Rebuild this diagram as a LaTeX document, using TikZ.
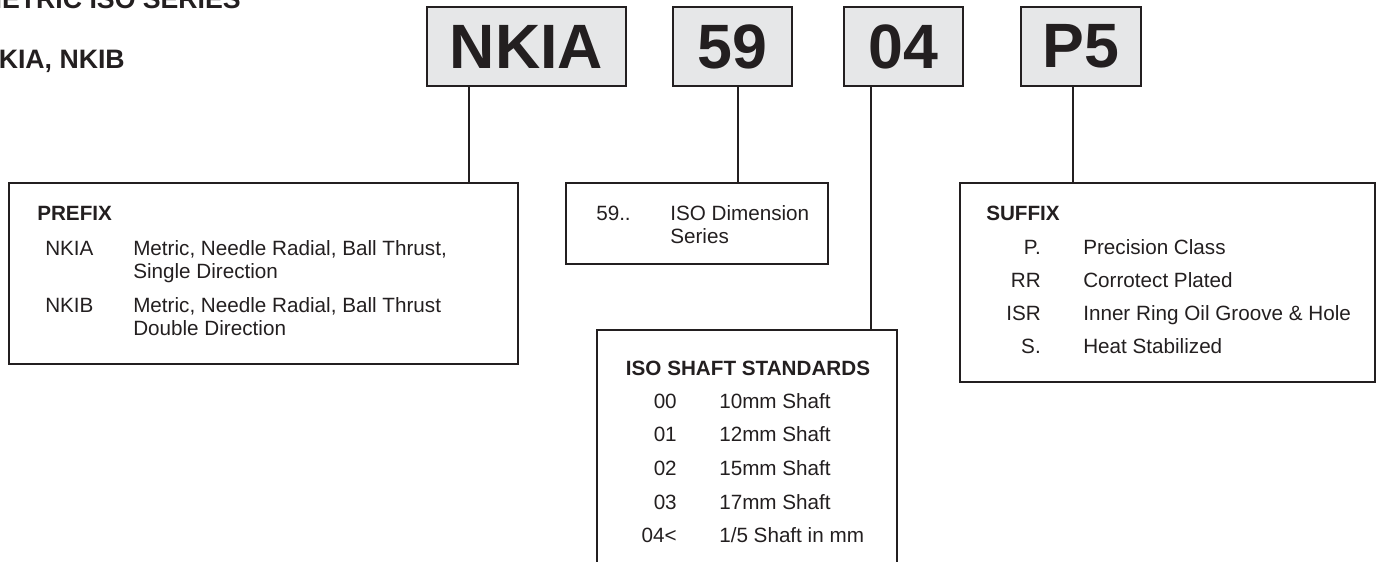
\documentclass[tikz,border=0pt]{standalone}
\usepackage{fontspec}
\setmainfont{Liberation Sans}
\usetikzlibrary{positioning, calc}
\definecolor{ink}{RGB}{35, 31, 32}
\definecolor{panel}{RGB}{230, 231, 232}
\tikzset{
    base/.style={
        font=\fontsize{15.5}{18}\selectfont,
        text=ink,
        inner sep=0pt
    },
    codebox/.style={
        draw=ink,
        line width=1.6pt,
        fill=panel,
        text=ink,
        font=\fontsize{47}{47}\selectfont\bfseries,
        minimum height=59.25pt,
        inner sep=0pt
    },
    infobox/.style={
        draw=ink,
        line width=1.5pt,
        anchor=north west,
        inner sep=0pt
    },
    stem/.style={
        draw=ink,
        line width=1.2pt
    },
    title/.style={
        base,
        font=\fontsize{20}{24}\selectfont\bfseries,
        anchor=base east
    },
    hdr/.style={
        base,
        font=\fontsize{15.5}{18}\selectfont\bfseries,
        anchor=base west
    },
    item/.style={
        base,
        anchor=base west
    },
    code/.style={
        base,
        anchor=base east
    }
}

\begin{document}
\begin{tikzpicture}[x=0.75pt, y=0.75pt]
  \clip (0,0) rectangle (1379,-561);

  % Titles (cut by the page edge)
  \node[title] (seriesTitle) at (241,-8) {METRIC ISO SERIES};
  \node[title] (typeTitle) at (125,-68) {NKIA, NKIB};

  % Part number
  \node[codebox, minimum width=149.25pt] (nkia) at (526.5,-46.5) {NKIA};
  \node[codebox, minimum width=89.25pt] (dim) at (732.5,-46.5) {59};
  \node[codebox, minimum width=89.25pt] (shaft) at (903.5,-46.5) {04};
  \node[codebox, minimum width=90pt] (suf) at (1081,-46.5) {P5};

  % Explanation boxes
  \node[infobox, minimum width=381.75pt, minimum height=135.75pt] (prefixBox) at (8,-182) {};
  \node[infobox, minimum width=196.5pt, minimum height=60.75pt] (dimBox) at (565,-182) {};
  \node[infobox, minimum width=225pt, minimum height=190pt] (shaftBox) at (596,-329) {};
  \node[infobox, minimum width=311.25pt, minimum height=149.25pt] (suffixBox) at (959,-182) {};

  % Stems
  \coordinate (nkiaTap) at ($(nkia.south)+(-57.5,0)$);
  \coordinate (dimTap) at ($(dim.south)+(5.5,0)$);
  \coordinate (shaftTap) at ($(shaft.south)+(-32.5,0)$);
  \coordinate (sufTap) at ($(suf.south)+(-8,0)$);
  \draw[stem] (nkiaTap) -- (nkiaTap |- prefixBox.north);
  \draw[stem] (dimTap) -- (dimTap |- dimBox.north);
  \draw[stem] (shaftTap) -- (shaftTap |- shaftBox.north);
  \draw[stem] (sufTap) -- (sufTap |- suffixBox.north);

  % Prefix
  \node[hdr] (prefixHdr) at (37,-220) {PREFIX};
  \node[item] (nkiaCode) at (45,-255) {NKIA};
  \node[item] (nkiaText) at (133,-255) {Metric, Needle Radial, Ball Thrust,};
  \node[item] (nkiaMore) at (133,-278) {Single Direction};
  \node[item] (nkibCode) at (45,-312) {NKIB};
  \node[item] (nkibText) at (133,-312) {Metric, Needle Radial, Ball Thrust};
  \node[item] (nkibMore) at (133,-335) {Double Direction};

  % Dimension series
  \node[item] (dimCode) at (596,-220) {59..};
  \node[item] (dimText) at (670,-220) {ISO Dimension};
  \node[item] (dimMore) at (670,-243) {Series};

  % Shaft standards
  \node[base, anchor=base] (shaftHdr) at (748,-375) {\bfseries ISO SHAFT STANDARDS};
  \foreach \code/\desc [count=\i] in {00/10mm Shaft, 01/12mm Shaft, 02/15mm Shaft,
      03/17mm Shaft, {04<}/{1/5 Shaft in mm}} {
    \node[code] (shaftCode\i) at (677,{-408-33.7*(\i-1)}) {\code};
    \node[item] (shaftText\i) at (719,{-408-33.7*(\i-1)}) {\desc};
  }

  % Suffix
  \node[hdr] (suffixHdr) at (986,-220) {SUFFIX};
  \foreach \code/\desc [count=\i] in {P./Precision Class, RR/Corrotect Plated,
      ISR/Inner Ring Oil Groove \& Hole, S./Heat Stabilized} {
    \node[code] (sufCode\i) at (1041,{-254-33.3*(\i-1)}) {\code};
    \node[item] (sufText\i) at (1083,{-254-33.3*(\i-1)}) {\desc};
  }
\end{tikzpicture}
\end{document}
